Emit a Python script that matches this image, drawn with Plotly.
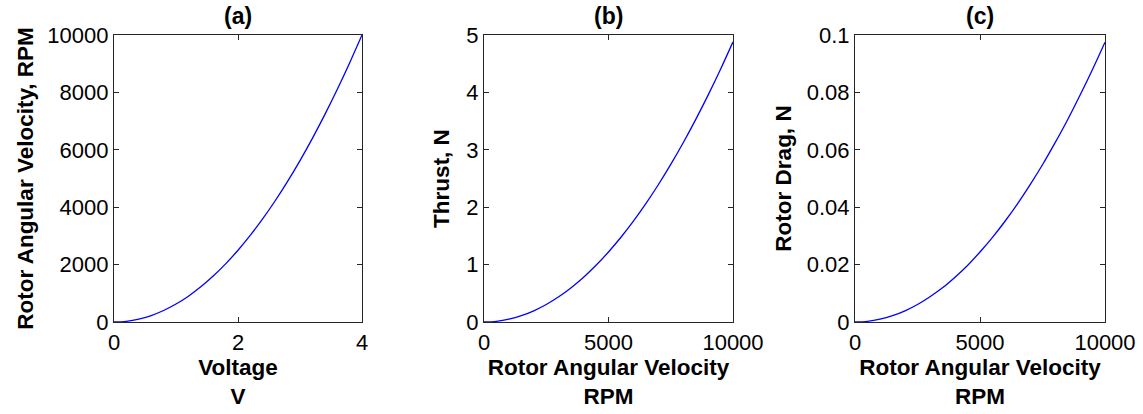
import plotly.graph_objects as go

# Panel (a): rotor speed vs voltage
voltage = [0.0, 0.2, 0.4, 0.6, 0.8, 1.0, 1.2, 1.4, 1.6, 1.8, 2.0,
           2.2, 2.4, 2.6, 2.8, 3.0, 3.2, 3.4, 3.6, 3.8, 4.0]
rpm_a = [0, 25, 100, 225, 400, 625, 900, 1225, 1600, 2025, 2500,
         3025, 3600, 4225, 4900, 5625, 6400, 7225, 8100, 9025, 10000]

# Panels (b), (c): thrust / drag vs rotor speed
rpm = [0, 500, 1000, 1500, 2000, 2500, 3000, 3500, 4000, 4500, 5000,
       5500, 6000, 6500, 7000, 7500, 8000, 8500, 9000, 9500, 10000]
thrust = [0.0, 0.012, 0.049, 0.110, 0.195, 0.305, 0.439, 0.598, 0.781, 0.988, 1.220,
          1.476, 1.757, 2.062, 2.391, 2.745, 3.123, 3.526, 3.953, 4.404, 4.880]
drag = [0.0, 0.00024, 0.00098, 0.0022, 0.0039, 0.0061, 0.0088, 0.0119, 0.0156, 0.0197, 0.0244,
        0.0295, 0.0351, 0.0412, 0.0478, 0.0548, 0.0624, 0.0704, 0.0790, 0.0880, 0.0975]

titles = ["(a)", "(b)", "(c)"]
xtitles = ["Voltage<br>V", "Rotor Angular Velocity<br>RPM", "Rotor Angular Velocity<br>RPM"]
ytitles = ["Rotor Angular Velocity, RPM", "Thrust, N", "Rotor Drag, N"]

ticks_xa = [0, 2, 4]
ticks_ya = [0, 2000, 4000, 6000, 8000, 10000]
ticks_xb = [0, 5000, 10000]
ticks_yb = [0, 1, 2, 3, 4, 5]
ticks_yc = [0, 0.02, 0.04, 0.06, 0.08, 0.1]
ticktext_yc = ["0", "0.02", "0.04", "0.06", "0.08", "0.1"]

W, H = 1143, 414
FONT = "Liberation Sans, Arial, Helvetica, sans-serif"
LINE = "#262626"

fig = go.Figure()
series = [(voltage, rpm_a), (rpm, thrust), (rpm, drag)]
for i, (x, y) in enumerate(series):
    sfx = "" if i == 0 else str(i + 1)
    fig.add_trace(go.Scatter(x=x, y=y, mode="lines", line=dict(color="#0000ff", width=1.3, shape="spline"),
                             xaxis="x" + sfx, yaxis="y" + sfx, showlegend=False, hoverinfo="x+y"))

xdom = [(114, 362), (484, 733), (855, 1105)]
ytop, ybot = 35, 322
ydom = [1 - ybot / H, 1 - ytop / H]

def axis_common():
    return dict(showline=True, linecolor=LINE, linewidth=1.2, mirror="allticks", ticks="inside",
                ticklen=5, tickcolor=LINE, tickwidth=1, showgrid=False, zeroline=False, automargin=False,
                tickfont=dict(family=FONT, size=22, color="#000"), fixedrange=True)

xranges = [[0, 4], [0, 10000], [0, 10000]]
yranges = [[0, 10000], [0, 5], [0, 0.1]]
xticks = [ticks_xa, ticks_xb, ticks_xb]
yticks = [ticks_ya, ticks_yb, ticks_yc]
ytexts = [[str(v) for v in ticks_ya], [str(v) for v in ticks_yb], ticktext_yc]
ystand = [7, 10, 8]

layout = dict(width=W, height=H, margin=dict(l=0, r=0, t=0, b=0, autoexpand=False),
              paper_bgcolor="white", plot_bgcolor="white", showlegend=False)
for i in range(3):
    sfx = "" if i == 0 else str(i + 1)
    xa = axis_common()
    xa.update(domain=[xdom[i][0] / W, xdom[i][1] / W], range=xranges[i], tickvals=xticks[i],
              ticktext=[str(v) for v in xticks[i]], anchor="y" + sfx,
              title=dict(text="<b>" + xtitles[i].replace("<br>", "</b><br><b>") + "</b>",
                         font=dict(family=FONT, size=22.5, color="#000"), standoff=2))
    ya = axis_common()
    ya.update(domain=ydom, range=yranges[i], tickvals=yticks[i], ticktext=ytexts[i], anchor="x" + sfx,
              title=dict(text="<b>" + ytitles[i] + "</b>", font=dict(family=FONT, size=22.5, color="#000"),
                         standoff=ystand[i]))
    layout["xaxis" + sfx] = xa
    layout["yaxis" + sfx] = ya

annotations = []
for i in range(3):
    annotations.append(dict(text="<b>" + titles[i] + "</b>", xref="paper", yref="paper",
                            x=(xdom[i][0] + xdom[i][1]) / 2 / W, y=1 - 16 / H,
                            showarrow=False, xanchor="center", yanchor="middle",
                            font=dict(family=FONT, size=23, color="#000")))
layout["annotations"] = annotations
fig.update_layout(**layout)
fig.write_html("out.html", config=dict(displayModeBar=False))
